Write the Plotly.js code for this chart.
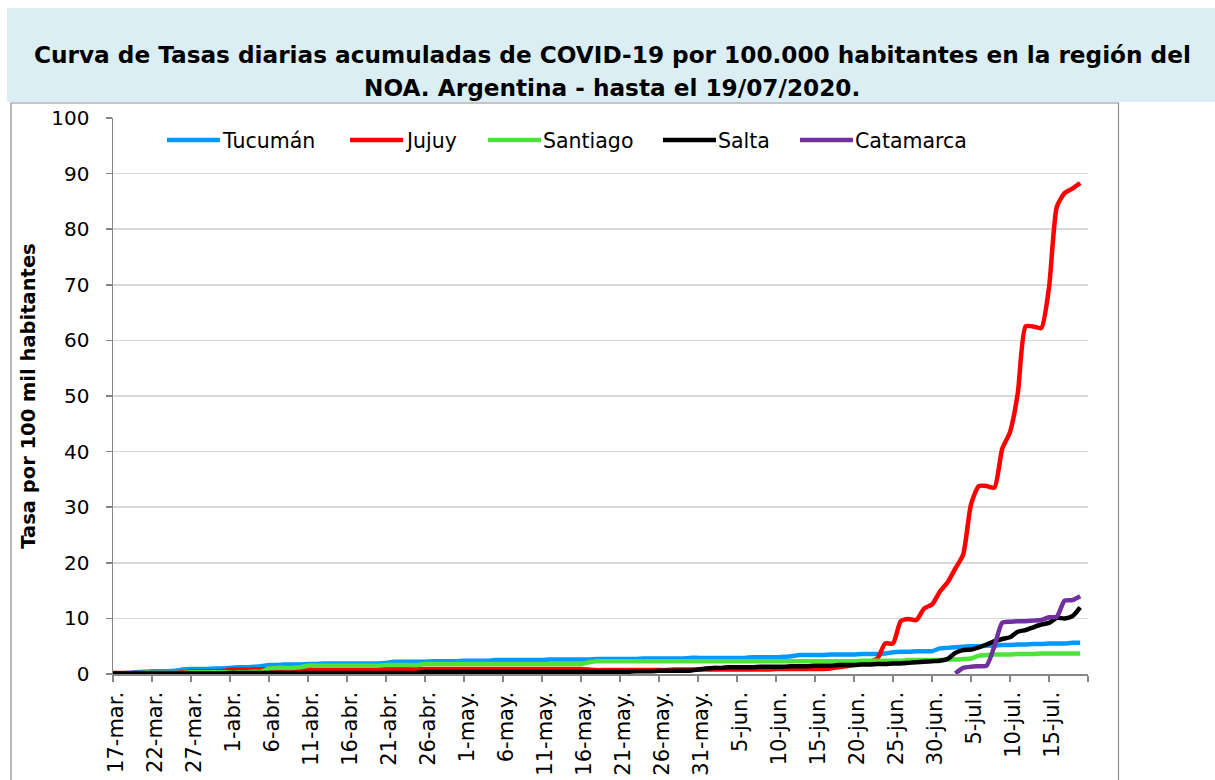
<!DOCTYPE html>
<html>
<head>
<meta charset="utf-8">
<script src="https://cdn.plot.ly/plotly-3.0.1.min.js"></script>
<style>html,body{margin:0;padding:0;background:#fff;}#chart{width:1215px;height:780px;}</style>
</head>
<body>
<div id="chart"></div>
<script>
// ---- data (daily cumulative rate per 100,000 inhabitants, 17-mar to 19-jul 2020) ----
const startDate = '2020-03-17';
const seriesNames = ['Tucumán', 'Jujuy', 'Santiago', 'Salta', 'Catamarca'];

const tucuman = [
  0.1,0.1,0.2,0.3,0.4,0.5,0.5,0.5,0.6,0.8,
  0.9,0.9,0.9,1.0,1.0,1.1,1.2,1.2,1.3,1.4,
  1.6,1.6,1.7,1.7,1.7,1.8,1.8,1.9,1.9,1.9,
  1.9,1.9,1.9,1.9,1.9,2.0,2.2,2.2,2.2,2.2,
  2.2,2.3,2.3,2.3,2.3,2.4,2.4,2.4,2.4,2.5,
  2.5,2.5,2.5,2.5,2.5,2.5,2.6,2.6,2.6,2.6,
  2.6,2.6,2.7,2.7,2.7,2.7,2.7,2.7,2.8,2.8,
  2.8,2.8,2.8,2.8,2.9,2.9,2.9,2.9,2.9,2.9,
  2.9,2.9,3.0,3.0,3.0,3.0,3.1,3.2,3.4,3.4,
  3.4,3.4,3.5,3.5,3.5,3.5,3.6,3.6,3.6,3.7,
  3.9,4.0,4.0,4.1,4.1,4.1,4.6,4.7,4.8,4.9,
  5.0,5.0,5.1,5.1,5.2,5.2,5.3,5.3,5.4,5.4,
  5.5,5.5,5.5,5.6,5.6
];

const jujuy = [
  0.2,0.2,0.2,0.2,0.2,0.2,0.2,0.2,0.2,0.3,
  0.5,0.5,0.5,0.5,0.5,0.8,0.8,0.8,0.8,0.8,
  0.9,0.9,0.9,0.9,0.9,0.9,0.9,0.9,0.9,0.9,
  0.9,0.9,0.9,0.9,0.9,0.9,0.9,0.9,0.9,0.9,
  0.9,0.9,0.9,0.9,0.9,0.9,0.9,0.9,0.9,0.9,
  0.9,0.9,0.9,0.9,0.9,0.9,0.9,0.9,0.9,0.9,
  0.9,0.8,0.7,0.7,0.7,0.7,0.7,0.7,0.7,0.7,
  0.7,0.7,0.8,0.8,0.8,0.8,0.8,0.8,0.8,0.8,
  0.8,0.8,0.8,0.8,0.8,0.9,0.9,0.9,0.9,0.9,
  0.9,0.9,1.0,1.2,1.4,1.6,1.9,2.2,2.8,5.5,
  5.5,9.5,9.9,9.7,11.8,12.5,14.8,16.5,19.0,21.5,
  30.5,33.8,33.8,33.5,40.5,43.5,50.5,62.5,62.5,62.2,
  69.5,84.0,86.5,87.3,88.3
];

const santiago = [
  0.0,0.0,0.1,0.1,0.2,0.2,0.2,0.2,0.2,0.2,
  0.3,0.3,0.3,0.3,0.3,0.3,0.3,0.3,0.4,0.4,
  1.0,1.1,1.1,1.1,1.2,1.5,1.5,1.5,1.5,1.5,
  1.5,1.5,1.5,1.5,1.5,1.6,1.6,1.6,1.6,1.6,
  1.8,1.8,1.8,1.8,1.8,1.8,1.8,1.8,1.8,1.8,
  1.8,1.8,1.8,1.8,1.8,1.8,1.8,1.8,1.8,1.8,
  1.8,2.1,2.3,2.3,2.3,2.3,2.3,2.3,2.3,2.3,
  2.3,2.3,2.3,2.3,2.3,2.3,2.3,2.3,2.3,2.3,
  2.3,2.3,2.3,2.3,2.3,2.3,2.3,2.3,2.3,2.3,
  2.3,2.3,2.3,2.3,2.3,2.3,2.4,2.4,2.4,2.4,
  2.4,2.4,2.5,2.5,2.5,2.5,2.5,2.6,2.6,2.7,
  2.8,3.3,3.4,3.5,3.5,3.5,3.6,3.6,3.6,3.7,
  3.7,3.7,3.7,3.7,3.7
];

const salta = [
  0.1,0.1,0.1,0.1,0.1,0.1,0.1,0.1,0.1,0.1,
  0.1,0.1,0.1,0.1,0.1,0.2,0.2,0.2,0.2,0.2,
  0.2,0.2,0.2,0.2,0.2,0.2,0.2,0.2,0.2,0.2,
  0.2,0.2,0.2,0.2,0.2,0.2,0.2,0.2,0.2,0.2,
  0.4,0.4,0.4,0.4,0.4,0.4,0.4,0.4,0.4,0.4,
  0.4,0.4,0.4,0.4,0.4,0.4,0.4,0.4,0.4,0.4,
  0.4,0.4,0.4,0.4,0.4,0.4,0.4,0.5,0.5,0.5,
  0.6,0.6,0.6,0.6,0.6,0.8,1.0,1.1,1.1,1.2,
  1.2,1.2,1.2,1.3,1.3,1.3,1.3,1.4,1.4,1.4,
  1.5,1.5,1.5,1.6,1.6,1.6,1.7,1.7,1.8,1.8,
  1.9,1.9,2.0,2.1,2.2,2.3,2.4,2.7,3.8,4.3,
  4.4,4.8,5.3,5.9,6.3,6.6,7.6,7.9,8.4,8.9,
  9.2,10.1,10.0,10.4,12.0
];

// Catamarca reports start on 3-jul
const catamarcaStart = '2020-07-03';
const catamarca = [
  0.1,1.1,1.3,1.4,1.5,5.0,9.2,9.4,9.5,9.5,
  9.6,9.7,10.2,10.3,13.2,13.3,14.0
];

const tickDates = [
  '2020-03-17','2020-03-22','2020-03-27','2020-04-01','2020-04-06','2020-04-11',
  '2020-04-16','2020-04-21','2020-04-26','2020-05-01','2020-05-06','2020-05-11',
  '2020-05-16','2020-05-21','2020-05-26','2020-05-31','2020-06-05','2020-06-10',
  '2020-06-15','2020-06-20','2020-06-25','2020-06-30','2020-07-05','2020-07-10',
  '2020-07-15','2020-07-20'
];
const tickLabels = [
  '17-mar.','22-mar.','27-mar.','1-abr.','6-abr.','11-abr.',
  '16-abr.','21-abr.','26-abr.','1-may.','6-may.','11-may.',
  '16-may.','21-may.','26-may.','31-may.','5-jun.','10-jun.',
  '15-jun.','20-jun.','25-jun.','30-jun.','5-jul.','10-jul.',
  '15-jul.',''
];

const titleLine1 = 'Curva de Tasas diarias acumuladas de COVID-19 por 100.000 habitantes en la región del';
const titleLine2 = 'NOA. Argentina - hasta el 19/07/2020.';
const yTitle = 'Tasa por 100 mil habitantes';

// ---- build ----
function daySeq(start, n) {
  const p = start.split('-').map(Number);
  const out = [];
  for (let i = 0; i < n; i++) {
    out.push(new Date(Date.UTC(p[0], p[1] - 1, p[2] + i)).toISOString().slice(0, 10));
  }
  return out;
}
const dates = daySeq(startDate, tucuman.length);
const catDates = daySeq(catamarcaStart, catamarca.length);

const colors = ['#0099FF', '#FF0000', '#4DE33B', '#000000', '#7030A0'];
const ys = [tucuman, jujuy, santiago, salta, catamarca];
const xs = [dates, dates, dates, dates, catDates];

const traces = seriesNames.map((name, i) => ({
  type: 'scatter', mode: 'lines', name: name,
  x: xs[i], y: ys[i],
  line: {color: colors[i], width: 4.5, shape: 'spline', smoothing: 0.6},
  hoverinfo: 'x+y+name', showlegend: false
}));

const W = 1215, H = 780, L = 113, R = 1088, T = 118, B = 674;
const px = v => (v - L) / (R - L);
const py = v => (B - v) / (B - T);

const FONT = '"DejaVu Sans", Verdana, sans-serif';

// legend drawn as line samples + labels (positions in pixels)
const legendLineX = [167, 350, 488, 663, 800];
const legendLineLen = 53;
const legendY = 140;
const legendShapes = seriesNames.map((n, i) => ({
  type: 'line', xref: 'paper', yref: 'paper',
  x0: px(legendLineX[i]), x1: px(legendLineX[i] + legendLineLen), y0: py(legendY), y1: py(legendY),
  line: {color: colors[i], width: 4.5}
}));
const legendAnn = seriesNames.map((n, i) => ({
  text: n, xref: 'paper', yref: 'paper', x: px(legendLineX[i] + legendLineLen + 1), y: py(legendY + 1),
  xanchor: 'left', yanchor: 'middle', showarrow: false, borderpad: 0,
  font: {size: 20.5, family: FONT, color: '#000'}
}));

const layout = {
  width: W, height: H,
  margin: {l: L, r: W - R, t: T, b: H - B, pad: 0},
  paper_bgcolor: '#ffffff', plot_bgcolor: '#ffffff',
  font: {family: FONT, color: '#000'},
  showlegend: false,
  xaxis: {
    type: 'date', range: ['2020-03-17', '2020-07-20'],
    tickmode: 'array', tickvals: tickDates, ticktext: tickLabels,
    tickangle: -90, ticks: 'outside', ticklen: 6, tickwidth: 1.5, tickcolor: '#868686',
    showline: true, linecolor: '#868686', linewidth: 1.5,
    showgrid: false, zeroline: false,
    tickfont: {size: 21, family: FONT, color: '#000'},
    ticklabelstandoff: 2, ticklabelshift: 3
  },
  yaxis: {
    range: [0, 100], dtick: 10, tick0: 0,
    ticks: 'outside', ticklen: 6, tickwidth: 1.5, tickcolor: '#868686',
    showline: true, linecolor: '#868686', linewidth: 1.5,
    showgrid: true, gridcolor: '#D9D9D9', gridwidth: 1.5, zeroline: false,
    tickfont: {size: 20, family: FONT, color: '#000'},
    ticklabelstandoff: 12,
    title: {text: yTitle, font: {size: 19.5, family: FONT, color: '#000', weight: 'bold'}, standoff: 10}
  },
  shapes: [
    {type: 'rect', xref: 'paper', yref: 'paper', x0: px(7), x1: px(1215), y0: py(102), y1: py(8),
     fillcolor: '#DAEEF3', line: {width: 0}, layer: 'below'},
    {type: 'rect', xref: 'paper', yref: 'paper', x0: px(11), x1: px(1118.5), y0: py(790), y1: py(103),
     fillcolor: 'rgba(0,0,0,0)', line: {color: '#8C8C8C', width: 1.2}, layer: 'below'}
  ].concat(legendShapes),
  annotations: [
    {text: titleLine1, xref: 'paper', yref: 'paper', x: px(612), y: py(54), xanchor: 'center', yanchor: 'middle',
     showarrow: false, font: {size: 23.2, family: FONT, color: '#000', weight: 'bold'}},
    {text: titleLine2, xref: 'paper', yref: 'paper', x: px(612), y: py(87.5), xanchor: 'center', yanchor: 'middle',
     showarrow: false, font: {size: 23.2, family: FONT, color: '#000', weight: 'bold'}}
  ].concat(legendAnn)
};

Plotly.newPlot('chart', traces, layout, {displayModeBar: false, staticPlot: true});
</script>
</body>
</html>
